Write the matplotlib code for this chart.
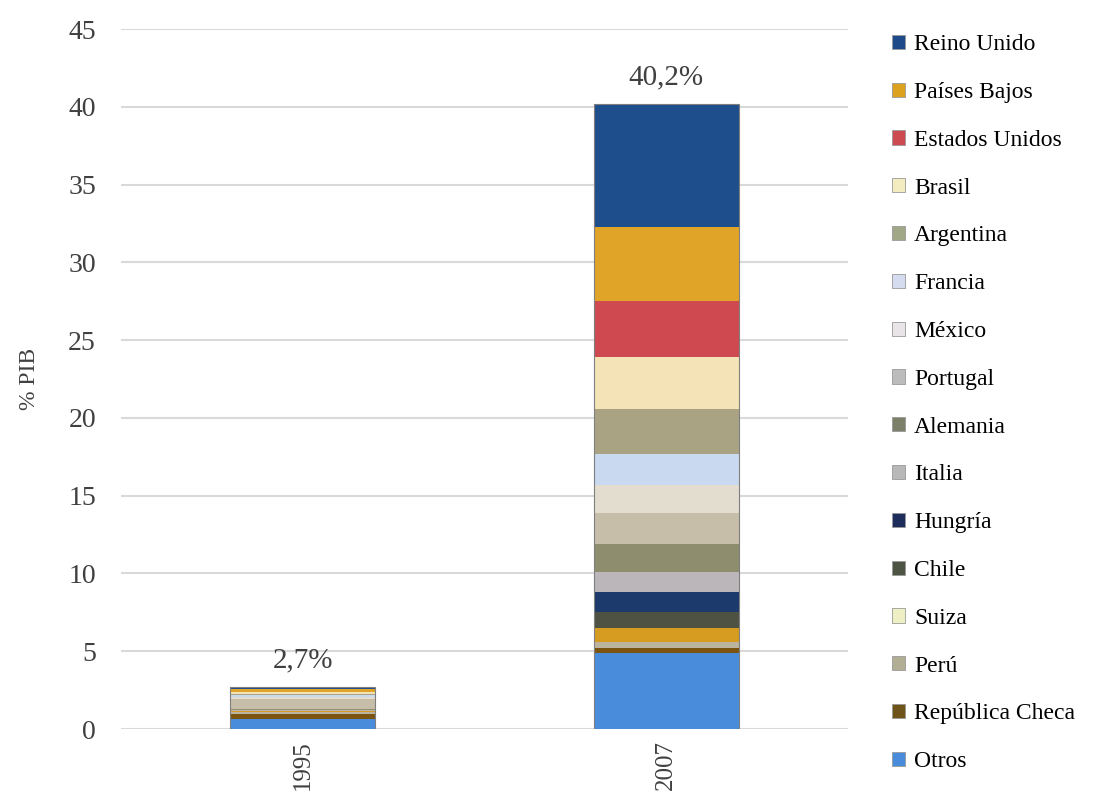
import matplotlib
matplotlib.use("Agg")
import matplotlib.pyplot as plt
from matplotlib.patches import Patch
import numpy as np

years = ["1995", "2007"]
countries = ["Otros", "República Checa", "Perú", "Suiza", "Chile", "Hungría",
             "Italia", "Alemania", "Portugal", "México", "Francia", "Argentina",
             "Brasil", "Estados Unidos", "Países Bajos", "Reino Unido"]
values_1995 = [0.65, 0.30, 0.15, 0.05, 0.02, 0.01, 0.05, 0.07, 0.60, 0.15,
               0.15, 0.05, 0.10, 0.05, 0.20, 0.10]
values_2007 = [4.9, 0.3, 0.4, 0.9, 1.0, 1.3, 1.3, 1.8, 2.0, 1.8, 2.0, 2.9,
               3.3, 3.6, 4.8, 7.9]
yticks = [0, 5, 10, 15, 20, 25, 30, 35, 40, 45]

bar_colors = ["#4a8cdc", "#7a5410", "#bcb49e", "#d69c22", "#4e5242", "#1c3a6c",
              "#bab6ba", "#8e8e6e", "#c6bea9", "#e2ddcf", "#c9d9ef", "#a9a383",
              "#f3e3b6", "#cf4a50", "#e0a428", "#1f4e8c"]
legend_colors = ["#4a8cdc", "#6e5418", "#b2ae94", "#eef0c4", "#4e5444", "#1e2e5c",
                 "#b8b8b8", "#7c8068", "#bcbcbc", "#e8e4e8", "#d6dcf0", "#a0a888",
                 "#f2ecc0", "#cc4a50", "#dca21e", "#1f4a8a"]

plt.rcParams['font.family'] = ['Liberation Serif', 'DejaVu Serif']

fig = plt.figure(figsize=(11.07, 7.99), dpi=100)
ax = fig.add_axes([0.1093, 0.0876, 0.6567, 0.8761])

x = np.arange(len(years))
data = np.array([values_1995, values_2007]).T
bottom = np.zeros(len(years))
for i, c in enumerate(countries):
    ax.bar(x, data[i], 0.4, bottom=bottom, color=bar_colors[i], linewidth=0,
           zorder=3)
    bottom += data[i]
ax.bar(x, bottom, 0.4, fill=False, edgecolor="#7f7f7f", linewidth=0.8, zorder=4)

for xi, tot in zip(x, bottom):
    ax.text(xi, tot + 0.85, f"{tot:.1f}".replace(".", ",") + "%", ha="center",
            va="bottom", fontsize=21, color="#404040")

ax.set_xlim(-0.5, 1.5)
ax.set_ylim(0, 45)
ax.set_yticks(yticks)
ax.set_yticklabels([str(t) for t in yticks], fontsize=20, color="#404040")
ax.set_xticks(x)
ax.set_xticklabels(years, rotation=90, fontsize=18, color="#404040")
ax.tick_params(length=0)
ax.tick_params(axis='x', pad=8)
ax.tick_params(axis='y', pad=18)
ax.yaxis.grid(True, color="#d9d9d9", linewidth=1.5, zorder=0)
ax.set_axisbelow(True)
for s in ax.spines.values():
    s.set_visible(False)
ax.set_ylabel("% PIB", fontsize=17, color="#404040", labelpad=20)

handles = [Patch(facecolor=legend_colors[i], edgecolor="#999999", linewidth=0.6)
           for i in range(len(countries))][::-1]
ax.legend(handles, countries[::-1], loc="upper left",
          bbox_to_anchor=(0.797, 0.969), bbox_transform=fig.transFigure,
          frameon=False, fontsize=17, handlelength=0.55, handleheight=0.55,
          handletextpad=0.4, labelspacing=1.135, borderaxespad=0)

fig.savefig("out.png", dpi=100)
